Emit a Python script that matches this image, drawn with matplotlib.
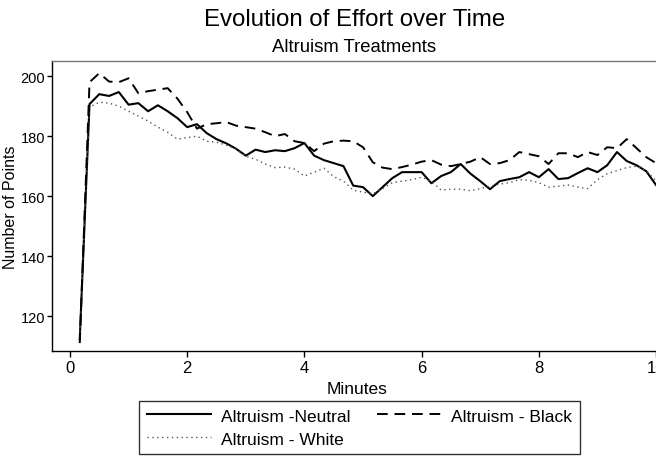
from matplotlib import pyplot as plt
import numpy as np

plt.rcParams['font.family'] = ['Liberation Sans', 'DejaVu Sans']

# minutes, one point every 10 seconds
minutes = np.arange(1, 61) / 6

neutral = [112.3, 190.7, 194.0, 193.4, 194.7, 190.5, 191.0, 188.3, 190.3, 188.3,
           186.0, 183.0, 184.0, 181.0, 179.0, 177.6, 175.8, 173.5, 175.5, 174.7,
           175.3, 175.0, 176.0, 177.7, 173.5, 172.0, 171.0, 170.0, 163.5, 163.0,
           160.0, 163.0, 166.0, 168.0, 168.0, 168.0, 164.3, 166.7, 168.0, 170.7,
           167.5, 165.0, 162.3, 165.0, 165.7, 166.3, 168.0, 166.3, 169.0, 165.7,
           166.0, 167.7, 169.3, 168.0, 170.3, 174.7, 171.7, 170.3, 168.3, 163.7]

black = [111.0, 198.0, 201.0, 198.2, 198.0, 199.3, 194.3, 195.0, 195.5, 196.0,
         192.5, 188.0, 182.5, 184.0, 184.3, 184.7, 183.5, 183.0, 182.5, 181.3,
         180.0, 180.7, 178.3, 177.7, 175.0, 177.5, 178.3, 178.5, 178.3, 176.3,
         171.3, 169.5, 169.0, 169.7, 170.5, 171.5, 172.0, 170.5, 170.0, 170.7,
         171.5, 173.0, 170.7, 171.0, 172.0, 174.7, 174.0, 173.3, 170.7, 174.3,
         174.3, 173.0, 174.7, 173.7, 176.3, 176.0, 179.0, 176.0, 173.0, 171.0]

white = [113.0, 189.7, 191.3, 191.0, 190.0, 188.3, 186.7, 185.0, 183.0, 181.3,
         179.0, 179.5, 180.0, 178.3, 178.0, 177.0, 175.7, 173.3, 172.3, 170.7,
         169.5, 169.7, 169.0, 166.7, 168.0, 169.3, 166.5, 165.0, 162.0, 161.3,
         160.8, 162.5, 164.5, 165.0, 165.5, 166.3, 165.0, 162.0, 162.3, 162.3,
         161.8, 162.5, 163.3, 164.0, 164.5, 165.5, 165.3, 164.5, 163.0, 163.3,
         163.7, 163.0, 162.5, 165.5, 167.5, 168.5, 169.5, 170.0, 168.5, 165.0]

fig = plt.figure(figsize=(6.56, 4.64), dpi=100)
ax = fig.add_axes([0.079, 0.241, 0.93, 0.625])

ax.plot(minutes, neutral, color='black', linewidth=1.5, label='Altruism -Neutral')
ax.plot(minutes, white, color='#555555', linewidth=1.0, linestyle=(0, (1, 2.5)),
        label='Altruism - White')
ax.plot(minutes, black, color='black', linewidth=1.4, linestyle=(0, (5.5, 3.5)),
        label='Altruism - Black')

ax.set_xlim(-0.31, 10.1)
ax.set_ylim(108.3, 205)
ax.set_xticks([0, 2, 4, 6, 8, 10])
ax.set_yticks([120, 140, 160, 180, 200])
ax.tick_params(labelsize=12, direction='out', length=4, width=1, pad=2)
ax.tick_params(axis='y', labelsize=10.5, length=3.5, pad=1.5)
for s in ax.spines.values():
    s.set_linewidth(1.0)
ax.spines['top'].set_color('#777777')

ax.set_xlabel('Minutes', fontsize=12.5, labelpad=5)
ax.set_ylabel('Number of Points', fontsize=11.5)
ax.yaxis.set_label_coords(-0.056, 0.5)

fig.text(0.54, 0.957, 'Evolution of Effort over Time', ha='center', va='center', fontsize=17.3)
fig.text(0.54, 0.898, 'Altruism Treatments', ha='center', va='center', fontsize=13.3)

fig.legend(loc='lower center', bbox_to_anchor=(0.548, 0.0), ncol=2, fontsize=12.5,
           handlelength=3.7, handletextpad=0.6, frameon=True, fancybox=False,
           edgecolor='black', columnspacing=1.5, labelspacing=0.45, borderpad=0.45)

plt.savefig('out.png', dpi=100)
